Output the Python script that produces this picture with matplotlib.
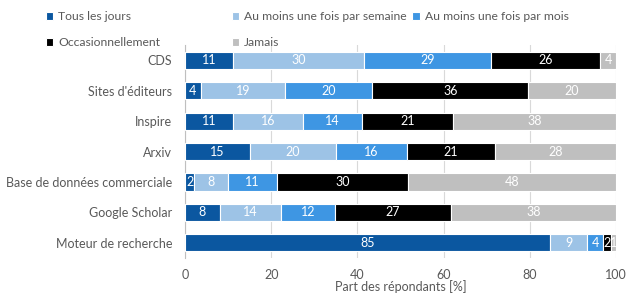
import matplotlib.pyplot as plt
import numpy as np

categories = ['CDS', "Sites d'éditeurs", 'Inspire', 'Arxiv',
              'Base de données commerciale', 'Google Scholar', 'Moteur de recherche']
series = ['Tous les jours', 'Au moins une fois par semaine', 'Au moins une fois par mois',
          'Occasionnellement', 'Jamais']
colors = ['#0B57A0', '#9DC3E6', '#3E96E3', '#000000', '#BFBFBF']

# share of respondents per frequency [%], one list per category row
tous_les_jours = [11.2, 3.7, 11.1, 15.1, 2.2, 8.1, 84.7]
par_semaine = [30.4, 19.4, 16.2, 19.9, 7.8, 14.2, 8.6]
par_mois = [29.3, 20.4, 13.8, 16.4, 11.4, 12.4, 3.8]
occasionnellement = [25.5, 36.1, 21.1, 20.6, 30.4, 27.0, 1.7]
jamais = [3.6, 20.4, 37.8, 28.0, 48.2, 38.3, 1.2]
values = [tous_les_jours, par_semaine, par_mois, occasionnellement, jamais]

plt.rcParams['font.family'] = ['Lato', 'DejaVu Sans']
txt = '#595959'
fs = 9.0

fig = plt.figure(figsize=(6.4, 2.96), dpi=100)
ax = fig.add_axes([0.289, 0.128, 0.6735, 0.72])

y = np.arange(len(categories))
left = np.zeros(len(categories))
bars = []
for name, vals, col in zip(series, values, colors):
    b = ax.barh(y, vals, left=left, height=0.56, color=col, edgecolor='white',
                linewidth=0.8, label=name, zorder=3)
    ax.bar_label(b, fmt='%.0f', label_type='center', color='white', fontsize=fs)
    bars.append(b)
    left += np.array(vals)

ax.set_ylim(-0.5, len(categories) - 0.5)
ax.invert_yaxis()
ax.set_xlim(0, 100)
ax.set_xticks([0, 20, 40, 60, 80, 100])
ax.set_yticks(y)
ax.set_yticklabels(categories)
ax.tick_params(axis='both', length=0, labelsize=fs, labelcolor=txt)
ax.tick_params(axis='x', pad=8)
ax.tick_params(axis='y', pad=9)
ax.grid(axis='x', color='#D9D9D9', linewidth=0.8, zorder=0)
for s in ['top', 'right', 'bottom']:
    ax.spines[s].set_visible(False)
ax.spines['left'].set_color('#BFBFBF')
ax.set_xlabel('Part des répondants [%]', fontsize=fs, color=txt, labelpad=-1)

leg_kw = dict(frameon=False, fontsize=8.7, labelcolor=txt, handlelength=0.6,
              handleheight=0.6, handletextpad=0.4, labelspacing=1.25,
              borderaxespad=0, borderpad=0)
leg1 = fig.legend([bars[0], bars[3]], [series[0], series[3]], loc='upper left',
                  bbox_to_anchor=(0.072, 0.962), ncol=1, **leg_kw)
leg2 = fig.legend([bars[1], bars[4], bars[2]], [series[1], series[4], series[2]],
                  loc='upper left', bbox_to_anchor=(0.362, 0.962), ncol=2,
                  columnspacing=0.5, **leg_kw)

fig.savefig('out.png', dpi=100)
